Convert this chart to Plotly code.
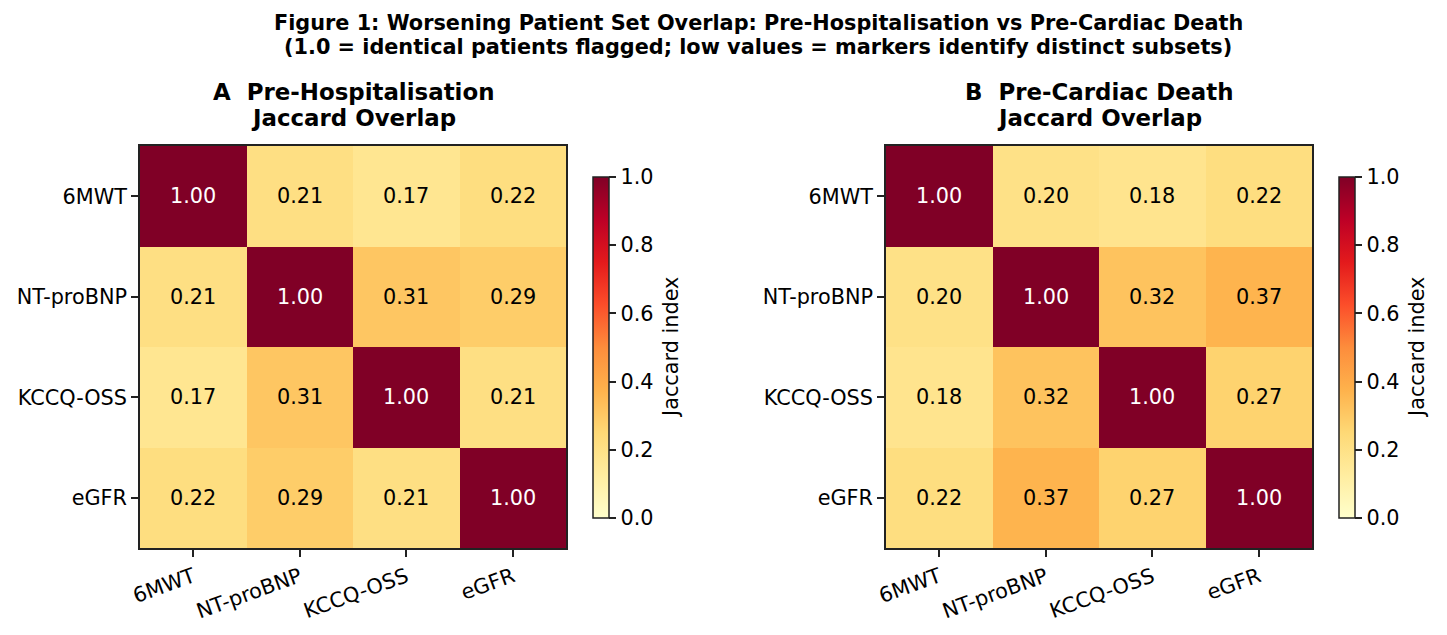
import plotly.graph_objects as go

markers = ["6MWT", "NT-proBNP", "KCCQ-OSS", "eGFR"]
jaccard_hosp = [
    [1.00, 0.21, 0.17, 0.22],
    [0.21, 1.00, 0.31, 0.29],
    [0.17, 0.31, 1.00, 0.21],
    [0.22, 0.29, 0.21, 1.00],
]
jaccard_death = [
    [1.00, 0.20, 0.18, 0.22],
    [0.20, 1.00, 0.32, 0.37],
    [0.18, 0.32, 1.00, 0.27],
    [0.22, 0.37, 0.27, 1.00],
]
cbar_ticks = [0.0, 0.2, 0.4, 0.6, 0.8, 1.0]
main_title = ["Figure 1: Worsening Patient Set Overlap: Pre-Hospitalisation vs Pre-Cardiac Death",
              "(1.0 = identical patients flagged; low values = markers identify distinct subsets)"]
panel_titles = [["A  Pre-Hospitalisation", "Jaccard Overlap"],
                ["B  Pre-Cardiac Death", "Jaccard Overlap"]]

W, H = 1447, 635
FONT = "DejaVu Sans"
FS = 20.8

ylorrd = ["#ffffcc", "#ffeda0", "#fed976", "#feb24c", "#fd8d3c",
          "#fc4e2a", "#e31a1c", "#bd0026", "#800026"]
cscale = [[i / 8, c] for i, c in enumerate(ylorrd)]

def px_x(p):
    return p / W

def px_y(p):
    return 1 - p / H

panels = [
    dict(z=jaccard_hosp, x0=140, x1=566, cb=593, cbl=671, title=panel_titles[0], xa="x", ya="y"),
    dict(z=jaccard_death, x0=886, x1=1312, cb=1339, cbl=1417, title=panel_titles[1], xa="x2", ya="y2"),
]

fig = go.Figure()
annotations = []
y0p, y1p = 146, 548

for i, p in enumerate(panels):
    suffix = "" if i == 0 else str(i + 1)
    fig.add_trace(go.Heatmap(
        z=p["z"], x=markers, y=markers, zmin=0, zmax=1,
        colorscale=cscale, xaxis=p["xa"], yaxis=p["ya"], hoverongaps=False,
        colorbar=dict(
            x=px_x(p["cb"]), xanchor="left", xref="paper", xpad=0, ypad=0,
            y=px_y((177 + 518) / 2), yanchor="middle",
            len=(518 - 177) / H, lenmode="fraction",
            thickness=16, outlinewidth=1.5, outlinecolor="#222222",
            ticks="outside", ticklen=7, tickwidth=1.5, tickcolor="#222222",
            tickvals=cbar_ticks, ticktext=[f"{t:.1f}" for t in cbar_ticks],
            tickfont=dict(family=FONT, size=FS, color="black"),
        ),
    ))
    axis_common = dict(showline=True, mirror=True, linecolor="#222222", linewidth=1.6,
                       ticks="outside", ticklen=7, tickwidth=1.5, tickcolor="#222222",
                       tickfont=dict(family=FONT, size=FS, color="black"),
                       showgrid=False, zeroline=False, automargin=False)
    fig.update_layout(**{
        "xaxis" + suffix: dict(domain=[px_x(p["x0"]), px_x(p["x1"])], tickangle=-20,
                               anchor="y" + suffix, **axis_common),
        "yaxis" + suffix: dict(domain=[px_y(y1p), px_y(y0p)], autorange="reversed",
                               anchor="x" + suffix, **axis_common),
    })
    for r, row in enumerate(p["z"]):
        for c, v in enumerate(row):
            annotations.append(dict(
                x=markers[c], y=markers[r], xref=p["xa"], yref=p["ya"],
                text=f"{v:.2f}", showarrow=False, xanchor="center", yanchor="middle",
                font=dict(family=FONT, size=FS, color="white" if v > 0.6 else "black"),
            ))
    for k, line in enumerate(p["title"]):
        annotations.append(dict(
            x=px_x((p["x0"] + p["x1"]) / 2), y=px_y(92 + 26 * k), xref="paper", yref="paper",
            text="<b>" + line + "</b>", showarrow=False,
            xanchor="center", yanchor="middle",
            font=dict(family=FONT, size=22.9, color="black"),
        ))
    annotations.append(dict(
        x=px_x(p["cbl"]), y=px_y(348), xref="paper", yref="paper",
        text="Jaccard index", showarrow=False, textangle=-90,
        xanchor="center", yanchor="middle",
        font=dict(family=FONT, size=FS, color="black"),
    ))

for k, line in enumerate(main_title):
    annotations.append(dict(
        x=px_x(758), y=px_y(23 + 24 * k), xref="paper", yref="paper",
        text="<b>" + line + "</b>",
        showarrow=False, xanchor="center", yanchor="middle",
        font=dict(family=FONT, size=FS, color="black"),
    ))

fig.update_layout(
    width=W, height=H, margin=dict(l=0, r=0, t=0, b=0, autoexpand=False),
    paper_bgcolor="white", plot_bgcolor="white",
    annotations=annotations, showlegend=False,
)

fig.write_html("out.html")
